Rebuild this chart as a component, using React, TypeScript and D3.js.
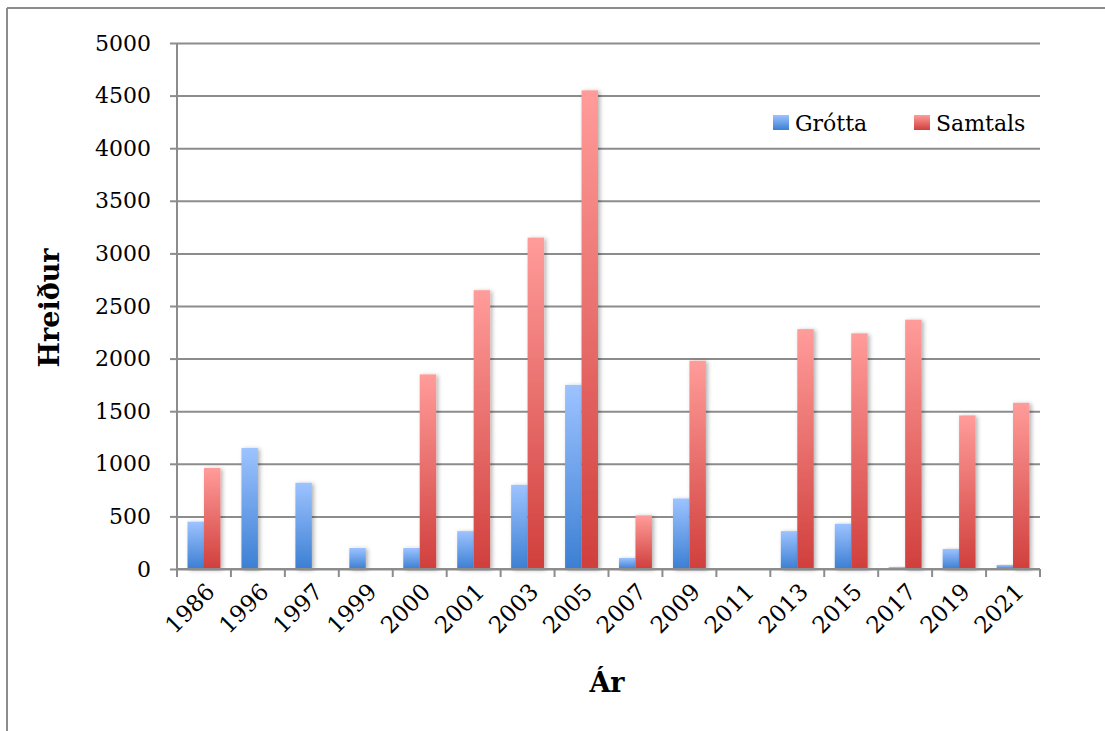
import React, { useEffect, useRef } from 'react';
import * as d3 from 'd3';

const years = ['1986', '1996', '1997', '1999', '2000', '2001', '2003', '2005', '2007', '2009', '2011', '2013', '2015', '2017', '2019', '2021'];
const grotta = [450, 1150, 820, 200, 200, 360, 800, 1750, 105, 670, 8, 360, 430, 18, 190, 38];
const samtals = [960, 0, 0, 0, 1850, 2650, 3150, 4550, 510, 1980, 8, 2280, 2240, 2370, 1460, 1580];
const yTicks = [0, 500, 1000, 1500, 2000, 2500, 3000, 3500, 4000, 4500, 5000];
const seriesNames = ['Grótta', 'Samtals'];

const W = 1105;
const H = 731;
const FONT = '"DejaVu Serif", "Liberation Serif", serif';

const App: React.FC = () => {
  const svgRef = useRef<SVGSVGElement>(null);

  useEffect(() => {
    const svg = d3.select(svgRef.current);
    svg.selectAll('*').remove();

    const margin = { top: 43, left: 177, right: 65, bottom: 162 };
    const chartW = W - margin.left - margin.right;
    const chartH = H - margin.top - margin.bottom;

    const defs = svg.append('defs');
    const grads = [
      { id: 'gBlue', top: '#9dc3ff', bottom: '#3c7fd3' },
      { id: 'gRed', top: '#ff9c9a', bottom: '#d03f3c' },
    ];
    grads.forEach(g => {
      const lg = defs.append('linearGradient')
        .attr('id', g.id)
        .attr('x1', 0).attr('y1', 0).attr('x2', 0).attr('y2', 1);
      lg.append('stop').attr('offset', '0%').attr('stop-color', g.top);
      lg.append('stop').attr('offset', '100%').attr('stop-color', g.bottom);
    });
    const f = defs.append('filter').attr('id', 'shadow')
      .attr('x', '-30%').attr('y', '-10%').attr('width', '170%').attr('height', '130%');
    f.append('feDropShadow')
      .attr('dx', 2).attr('dy', 1).attr('stdDeviation', 2)
      .attr('flood-color', '#000').attr('flood-opacity', 0.3);

    // outer frame (top + left visible)
    svg.append('line').attr('x1', 7).attr('x2', W).attr('y1', 8).attr('y2', 8)
      .attr('stroke', '#8c8c8c').attr('stroke-width', 2);
    svg.append('line').attr('x1', 7).attr('x2', 7).attr('y1', 8).attr('y2', H)
      .attr('stroke', '#8c8c8c').attr('stroke-width', 2);

    const g = svg.append('g').attr('transform', `translate(${margin.left},${margin.top})`);

    const x0 = d3.scaleBand().domain(years).range([0, chartW]).paddingInner(0).paddingOuter(0);
    const x1 = d3.scaleBand().domain(seriesNames).range([x0.bandwidth() * 0.195, x0.bandwidth() * 0.805]);
    const y = d3.scaleLinear().domain([0, 5000]).range([chartH, 0]);

    // gridlines
    g.append('g')
      .call(d3.axisLeft(y).tickValues(yTicks).tickSize(-chartW).tickFormat(() => ''))
      .call(s => s.select('.domain').remove())
      .call(s => s.selectAll('line').attr('stroke', '#8c8c8c').attr('stroke-width', 2));

    // bars
    const groups = g.selectAll('.grp').data(years).enter().append('g')
      .attr('transform', d => `translate(${x0(d)},0)`);
    const vals = [grotta, samtals];
    const fills = ['url(#gBlue)', 'url(#gRed)'];
    seriesNames.forEach((name, si) => {
      groups.append('rect')
        .attr('x', x1(name)!)
        .attr('width', x1.bandwidth())
        .attr('y', (_, i) => y(vals[si][i]))
        .attr('height', (_, i) => chartH - y(vals[si][i]))
        .attr('fill', fills[si])
        .attr('filter', 'url(#shadow)');
    });

    // y axis
    const yAxis = g.append('g')
      .call(d3.axisLeft(y).tickValues(yTicks).tickSize(7).tickPadding(19).tickFormat(d3.format('d')));
    yAxis.selectAll('line, path').attr('stroke', '#8c8c8c').attr('stroke-width', 2);
    yAxis.select('.domain').attr('d', `M0,${chartH}V0`);
    yAxis.selectAll('text').attr('font-family', FONT).attr('font-size', 22).attr('fill', '#000');

    // x axis
    const xAxis = g.append('g').attr('transform', `translate(0,${chartH})`);
    xAxis.append('line').attr('x1', 0).attr('x2', chartW).attr('y1', 0).attr('y2', 0)
      .attr('stroke', '#8c8c8c').attr('stroke-width', 2);
    const bounds = years.map(d => x0(d)!).concat([chartW]);
    xAxis.selectAll('.tk').data(bounds).enter().append('line')
      .attr('x1', d => d).attr('x2', d => d).attr('y1', 0).attr('y2', 8)
      .attr('stroke', '#8c8c8c').attr('stroke-width', 2);
    xAxis.selectAll('.lbl').data(years).enter().append('text')
      .attr('transform', d => `translate(${x0(d)! + x0.bandwidth() / 2 + 8},${20}) rotate(-45)`)
      .attr('text-anchor', 'end')
      .attr('dominant-baseline', 'middle')
      .attr('font-family', FONT).attr('font-size', 23).attr('fill', '#000')
      .text(d => d);

    // axis titles
    svg.append('text')
      .attr('x', 607).attr('y', 692)
      .attr('text-anchor', 'middle')
      .attr('font-family', FONT).attr('font-size', 27).attr('font-weight', 'bold')
      .text('Ár');
    svg.append('text')
      .attr('transform', 'translate(59,308) rotate(-90)')
      .attr('text-anchor', 'middle')
      .attr('font-family', FONT).attr('font-size', 27).attr('font-weight', 'bold')
      .text('Hreiður');

    // legend
    const legend = [
      { name: 'Grótta', fill: 'url(#gBlue)', x: 773 },
      { name: 'Samtals', fill: 'url(#gRed)', x: 914 },
    ];
    legend.forEach(l => {
      svg.append('rect').attr('x', l.x).attr('y', 115).attr('width', 16).attr('height', 15).attr('fill', l.fill);
      svg.append('text').attr('x', l.x + 22).attr('y', 131)
        .attr('font-family', FONT).attr('font-size', 22).attr('fill', '#000')
        .text(l.name);
    });
  }, []);

  return (
    <svg ref={svgRef} width={W} height={H}
      style={{ position: 'absolute', left: 0, top: 0, background: '#fff' }} />
  );
};

export default App;
